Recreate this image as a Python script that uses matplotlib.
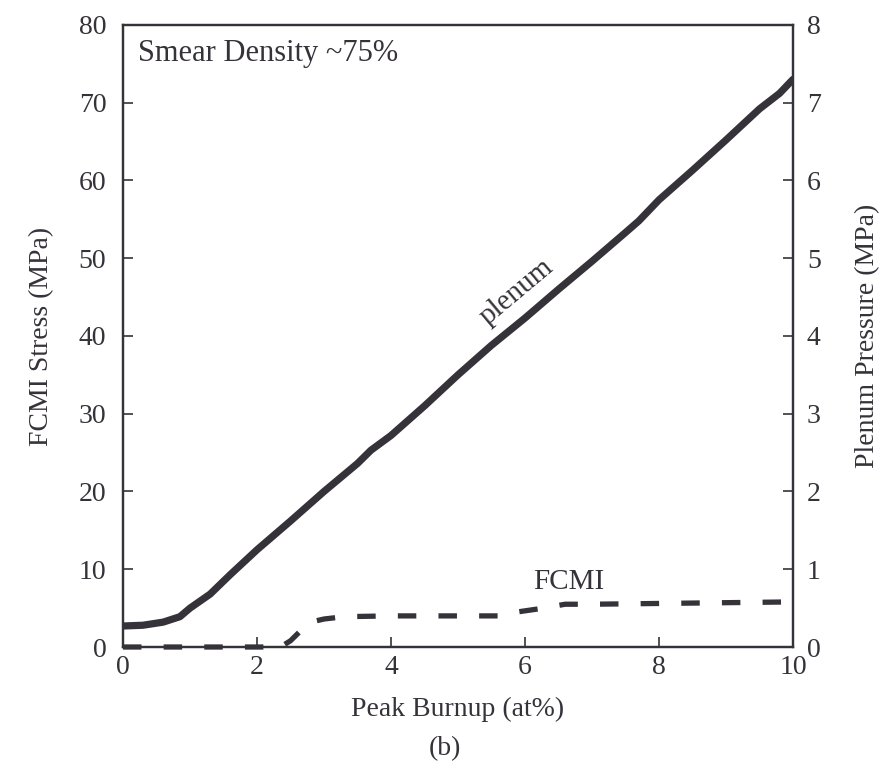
import matplotlib
matplotlib.use("Agg")
import matplotlib.pyplot as plt

plt.rcParams['font.family'] = ['Liberation Serif', 'DejaVu Serif']

# Data
burnup_plenum = [0, 0.3, 0.6, 0.85, 1.0, 1.3, 1.6, 2.0, 2.5, 3.0, 3.5, 3.7, 4.0, 4.5, 5.0, 5.5, 6.0, 6.5, 7.0, 7.5, 7.7, 8.0, 8.5, 9.0, 9.5, 9.8, 10.0]
plenum_stress = [2.7, 2.8, 3.2, 3.9, 5.0, 6.8, 9.3, 12.5, 16.2, 20.0, 23.6, 25.3, 27.2, 31.0, 35.0, 38.8, 42.3, 46.0, 49.6, 53.3, 54.8, 57.5, 61.3, 65.2, 69.2, 71.2, 73.0]

burnup_fcmi = [0, 2.35, 2.5, 2.7, 2.8, 3.0, 3.3, 4.0, 5.0, 5.6, 5.8, 6.2, 6.4, 6.6, 7.0, 8.0, 9.0, 10.0]
fcmi_stress = [0, 0, 0.8, 2.5, 3.2, 3.6, 3.9, 4.0, 4.0, 4.0, 4.4, 4.9, 5.2, 5.5, 5.5, 5.6, 5.7, 5.8]

xticks = [0, 2, 4, 6, 8, 10]
left_ticks = [0, 10, 20, 30, 40, 50, 60, 70, 80]
right_ticks = [0, 1, 2, 3, 4, 5, 6, 7, 8]

ink = '#36323a'

fig = plt.figure(figsize=(8.83, 7.73), dpi=100)
ax = fig.add_axes([0.1393, 0.163, 0.7587, 0.8047])
ax.plot(burnup_plenum, plenum_stress, color=ink, lw=5.2, solid_capstyle='round', zorder=3)
ax.plot(burnup_fcmi, fcmi_stress, color=ink, lw=3.8, linestyle=(0, (3.5, 4.2)), clip_on=False, zorder=3)

ax.set_xlim(0, 10)
ax.set_ylim(0, 80)
ax.set_xticks(xticks)
ax.set_yticks(left_ticks)
ax.tick_params(axis='y', direction='in', length=7, width=1.2, labelsize=20, colors=ink, pad=12)
ax.tick_params(axis='x', direction='in', length=7, width=1.2, labelsize=20, colors=ink, pad=6)
for s in ax.spines.values():
    s.set_color(ink)
    s.set_linewidth(1.6)

ax2 = ax.twinx()
ax2.set_ylim(0, 8)
ax2.set_yticks(right_ticks)
ax2.tick_params(direction='in', length=7, width=1.2, labelsize=20, colors=ink, pad=10)
for s in ax2.spines.values():
    s.set_color(ink)
    s.set_linewidth(1.6)

ax.set_xlabel('Peak Burnup (at%)', fontsize=20, color=ink, labelpad=12)
ax.set_ylabel('FCMI Stress (MPa)', fontsize=20, color=ink, labelpad=18)
ax2.set_ylabel('Plenum Pressure (MPa)', fontsize=20, color=ink, labelpad=25)

ax.text(0.23, 76.3, 'Smear Density ~75%', fontsize=22, color=ink, va='center', ha='left')
ax.text(5.87, 45.6, 'plenum', fontsize=21, color=ink, rotation=40, ha='center', va='center')
ax.text(6.65, 8.3, 'FCMI', fontsize=21, color=ink, ha='center', va='center')

fig.text(0.504, 0.032, '(b)', fontsize=20, color=ink, ha='center', va='center')

fig.savefig('out.png', dpi=100)
